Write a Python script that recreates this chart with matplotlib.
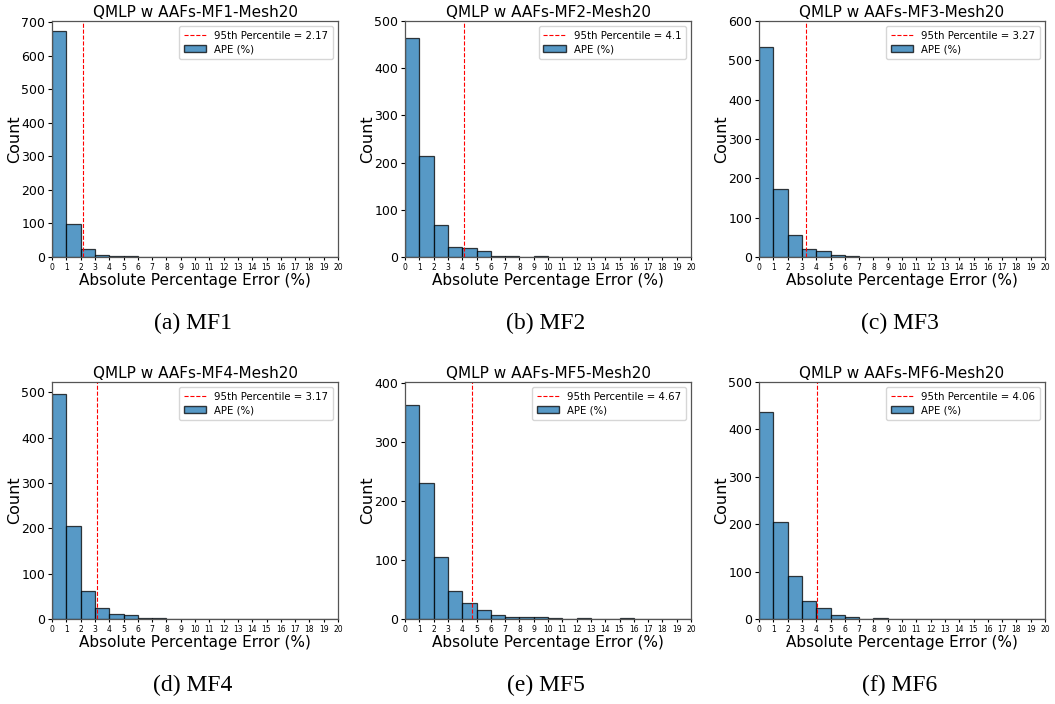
import numpy as np
import matplotlib
matplotlib.use('Agg')
import matplotlib.pyplot as plt
from matplotlib.lines import Line2D
from matplotlib.patches import Patch
from matplotlib.ticker import MultipleLocator

# Datos: conteos por bin de 1 % (0-20)
bordes = list(range(0, 21))
mf1 = [673, 98, 25, 6, 4, 4, 0, 1, 0, 1, 0, 0, 0, 0, 0, 0, 0, 0, 0, 0]
mf2 = [465, 214, 68, 22, 20, 12, 2, 2, 1, 3, 1, 0, 0, 1, 0, 0, 0, 0, 0, 0]
mf3 = [535, 174, 55, 21, 14, 5, 3, 0, 1, 1, 0, 0, 0, 0, 0, 0, 0, 0, 0, 0]
mf4 = [497, 206, 62, 25, 10, 8, 2, 2, 1, 0, 0, 0, 0, 0, 0, 0, 0, 0, 0, 0]
mf5 = [363, 231, 106, 48, 27, 16, 7, 4, 3, 3, 2, 0, 1, 0, 0, 1, 0, 0, 0, 0]
mf6 = [436, 205, 91, 38, 24, 9, 4, 1, 3, 0, 0, 0, 1, 0, 0, 0, 0, 0, 0, 0]

conteos = [mf1, mf2, mf3, mf4, mf5, mf6]
percentiles = [2.17, 4.1, 3.27, 3.17, 4.67, 4.06]
etiquetas_pct = ['2.17', '4.1', '3.27', '3.17', '4.67', '4.06']
nombres = ['MF1', 'MF2', 'MF3', 'MF4', 'MF5', 'MF6']
letras = ['a', 'b', 'c', 'd', 'e', 'f']
y_max = [703, 500, 600, 523, 402, 500]

W, H = 1055, 704
fig = plt.figure(figsize=(W / 100, H / 100), dpi=100)

# posiciones en pixeles (izquierda, arriba, abajo)
columnas = [52, 405, 759]
filas = [(21, 257), (382, 619)]
ancho = 286

for i in range(6):
    fila, col = divmod(i, 3)
    arriba, abajo = filas[fila]
    ax = fig.add_axes([columnas[col] / W, 1 - abajo / H, ancho / W, (abajo - arriba) / H])

    izq = np.array(bordes[:-1])
    ax.bar(izq, conteos[i], width=1, align='edge', color='tab:blue', alpha=0.75,
           edgecolor='black', linewidth=0.9)
    ax.axvline(percentiles[i], color='red', linestyle='--', linewidth=0.8)

    ax.set_xlim(0, 20)
    ax.set_ylim(0, y_max[i])
    ax.set_xticks(bordes)
    ax.yaxis.set_major_locator(MultipleLocator(100))
    ax.tick_params(axis='x', labelsize=5.5, length=2.5, pad=1.5)
    ax.tick_params(axis='y', labelsize=9, length=3, pad=2)
    for s in ax.spines.values():
        s.set_color('#555555')
        s.set_linewidth(0.9)

    ax.set_title('QMLP w AAFs-%s-Mesh20' % nombres[i], fontsize=11, pad=3)
    ax.set_xlabel('Absolute Percentage Error (%)', fontsize=11, labelpad=1)
    ax.set_ylabel('Count', fontsize=11.5, labelpad=-1)

    manejadores = [Line2D([0], [0], color='red', linestyle='--', linewidth=0.8),
                   Patch(facecolor='tab:blue', alpha=0.75, edgecolor='black')]
    ax.legend(manejadores, ['95th Percentile = ' + etiquetas_pct[i], 'APE (%)'],
              loc='upper right', fontsize=7.3, handlelength=2.2, borderpad=0.45,
              labelspacing=0.35)

    cx = (columnas[col] + ancho / 2 - 2) / W
    cy = 1 - (abajo + 66) / H
    fig.text(cx, cy, '(%s) %s' % (letras[i], nombres[i]), family='Liberation Serif',
             fontsize=17, ha='center', va='center')

fig.savefig('out.png', dpi=100)
